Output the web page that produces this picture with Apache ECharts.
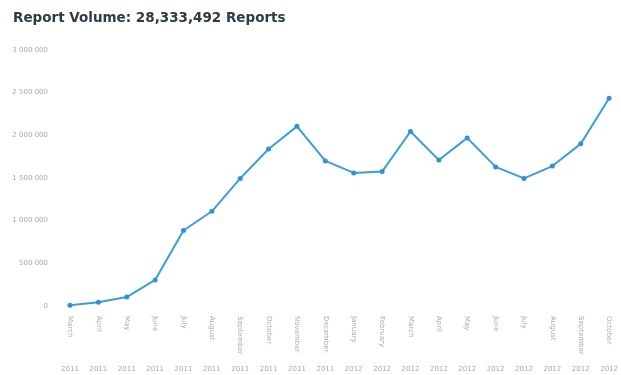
<!DOCTYPE html>
<html>
<head>
<meta charset="utf-8">
<script src="https://cdn.jsdelivr.net/npm/echarts@6/dist/echarts.min.js"></script>
<style>
html,body{margin:0;padding:0;background:#fff;}
#c{width:621px;height:375px;}
</style>
</head>
<body>
<div id="c"></div>
<script>
var months = ["March","April","May","June","July","August","September","October","November","December","January","February","March","April","May","June","July","August","September","October"];
var years = ["2011","2011","2011","2011","2011","2011","2011","2011","2011","2011","2012","2012","2012","2012","2012","2012","2012","2012","2012","2012"];
var reports = [10000,45000,105000,305000,885000,1110000,1495000,1840000,2105000,1700000,1560000,1575000,2045000,1710000,1970000,1630000,1495000,1640000,1900000,2435000];
var yTicks = [0,500000,1000000,1500000,2000000,2500000,3000000];
var title = "Report Volume: 28,333,492 Reports";

var chart = echarts.init(document.getElementById('c'));
chart.setOption({
  animation:false,
  title:{text:title,left:8,top:6,textStyle:{fontFamily:'DejaVu Sans',fontSize:13.5,fontWeight:'bold',color:'#2d3b44'}},
  grid:{left:70,right:8,top:50,bottom:69},
  xAxis:[{
    type:'category',data:months,boundaryGap:false,
    axisLine:{show:false},axisTick:{show:false},
    axisLabel:{rotate:-90,fontSize:7,color:'#aaa',margin:10,fontFamily:'DejaVu Sans',interval:0}
  },{
    type:'category',data:years,boundaryGap:false,position:'bottom',offset:52,
    axisLine:{show:false},axisTick:{show:false},
    axisLabel:{fontSize:7,color:'#aaa',fontFamily:'DejaVu Sans',interval:0}
  }],
  yAxis:{
    type:'value',min:yTicks[0],max:yTicks[yTicks.length-1],interval:500000,
    axisLine:{show:false},axisTick:{show:false},splitLine:{show:false},
    axisLabel:{fontSize:7,color:'#aaa',margin:22,fontFamily:'DejaVu Sans',
      formatter:function(v){return String(v).replace(/\B(?=(\d{3})+(?!\d))/g,' ');}}
  },
  series:[{
    type:'line',data:reports,xAxisIndex:0,
    symbol:'circle',symbolSize:5,
    lineStyle:{width:2,color:'#3a9fd9'},
    itemStyle:{color:'#2f92d2'}
  }]
});
</script>
</body>
</html>
